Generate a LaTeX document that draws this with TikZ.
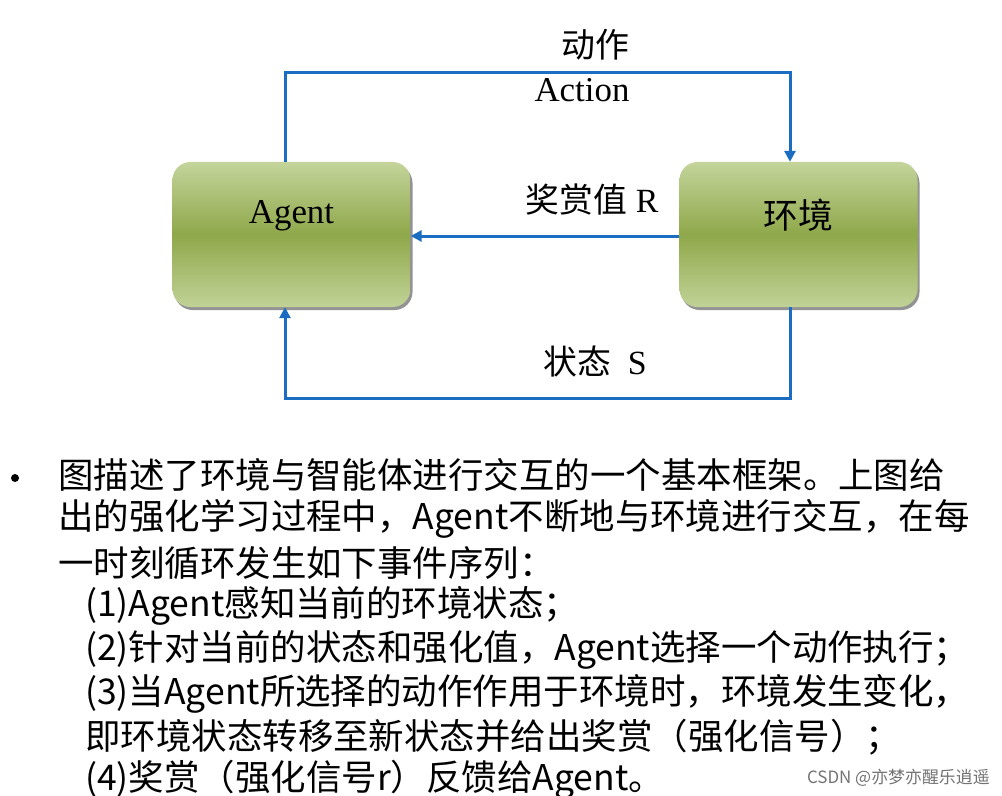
\documentclass[tikz,border=0pt]{standalone}
\usepackage{fontspec}
\setmainfont{Liberation Serif}
\newfontfamily\cjk{Noto Sans CJK SC}
\usetikzlibrary{shadows,arrows.meta}
\definecolor{boxlight}{HTML}{C4D49B}
\definecolor{boxdark}{HTML}{8FA84A}
\definecolor{flowblue}{HTML}{1A6DC0}
\begin{document}
\begin{tikzpicture}[x=1bp,y=-1bp,
  box/.style={rounded corners=18bp, minimum width=238bp, minimum height=145bp,
    top color=boxlight, bottom color=boxlight!95!boxdark, middle color=boxdark,
    drop shadow={shadow xshift=2bp, shadow yshift=-3bp, fill=black!70, opacity=0.6}},
  boxtext/.style={font=\fontsize{35}{35}\selectfont},
  flow/.style={draw=flowblue, line width=3bp, -{Triangle[length=11bp,width=11bp]}},
  lbl/.style={font=\fontsize{34}{34}\selectfont},
  txt/.style={anchor=west, inner sep=0pt, font=\cjk\fontsize{35.6}{35.6}\selectfont},
]
\useasboundingbox[fill=white] (0,0) rectangle (1002,796);

\node[box] (agent) at (291.5,234.5) {};
\node[box] (env) at (798.5,234.5) {};
\node[boxtext] (agentlbl) at ([yshift=19bp]agent.center) {Agent};
\node[boxtext] (envlbl) at ([yshift=19bp]env.center) {\cjk 环境};

\coordinate (a1) at (285,73);
\coordinate (a2) at (790,73);
\coordinate (s1) at (790,398);
\coordinate (s2) at (285,398);

\draw[flow] (agent.north -| a1) -- (a1) -- (a2) -- (env.north -| a2);
\draw[flow] (env.west |- 0,236) -- (agent.east |- 0,236);
\draw[flow] (env.south -| s1) -- (s1) -- (s2) -- (agent.south -| s2);

\node[lbl] (actcn) at (595,45) {\cjk 动作};
\node[lbl, font=\fontsize{35}{35}\selectfont] (acten) at (582,90) {Action};
\node[lbl] (rew) at (592,200) {{\cjk 奖赏值}\ R};
\node[lbl] (sta) at (595,362) {{\cjk 状态}\ \ S};

\fill (15,478) circle (4bp);
\node[txt] (l1) at (58,475) {图描述了环境与智能体进行交互的一个基本框架。上图给};
\node[txt] (l2) at (58,519) {出的强化学习过程中，Agent不断地与环境进行交互，在每};
\node[txt] (l3) at (58,563) {一时刻循环发生如下事件序列：};
\node[txt] (l4) at (85,606) {(1)Agent感知当前的环境状态；};
\node[txt] (l5) at (85,650) {(2)针对当前的状态和强化值，Agent选择一个动作执行；};
\node[txt] (l6) at (85,694) {(3)当Agent所选择的动作作用于环境时，环境发生变化，};
\node[txt] (l7) at (85,737) {即环境状态转移至新状态并给出奖赏（强化信号）；};
\node[txt] (l8) at (85,780) {(4)奖赏（强化信号r）反馈给Agent。};

\node[anchor=east, text=black!55, inner sep=0pt, font=\cjk\fontsize{17}{17}\selectfont] (wm) at (990,778) {CSDN @亦梦亦醒乐逍遥};
\end{tikzpicture}
\end{document}
